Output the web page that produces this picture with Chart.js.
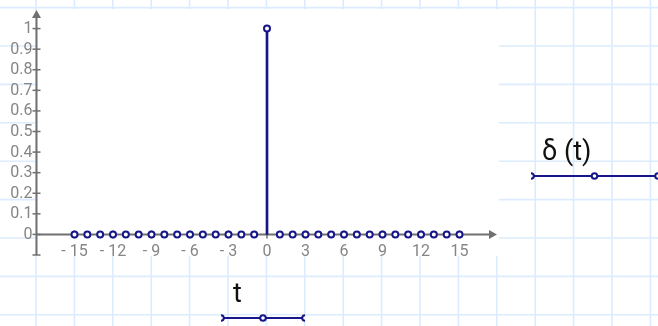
<!DOCTYPE html>
<html><head><meta charset="utf-8">
<script src="https://cdn.jsdelivr.net/npm/chart.js@4/dist/chart.umd.min.js"></script>
<style>html,body{margin:0;padding:0;background:#fff;}#wrap{width:658px;height:326px;position:relative;}</style>
</head><body><div id="wrap"><canvas id="c" width="658" height="326"></canvas></div>
<script>
const tValues = [-15,-14,-13,-12,-11,-10,-9,-8,-7,-6,-5,-4,-3,-2,-1,0,1,2,3,4,5,6,7,8,9,10,11,12,13,14,15];
const deltaValues = [0,0,0,0,0,0,0,0,0,0,0,0,0,0,0,1,0,0,0,0,0,0,0,0,0,0,0,0,0,0,0];
const xTickValues = [-15,-12,-9,-6,-3,0,3,6,9,12,15];
const xTickLabels = ['- 15','- 12','- 9','- 6','- 3','0','3','6','9','12','15'];
const yTickValues = [-0.1,0,0.1,0.2,0.3,0.4,0.5,0.6,0.7,0.8,0.9,1];
const yTickLabels = ['','0','0.1','0.2','0.3','0.4','0.5','0.6','0.7','0.8','0.9','1'];
const yLegendText = 'δ (t)';
const xLegendText = 't';

const NAVY = '#16168a';
const AXIS = '#707070';
const LABEL = '#858585';
const GRID = '#dcebfd';
const FONT = 'Roboto, "Noto Sans", sans-serif';

const points = tValues.map((t,i)=>({x:t,y:deltaValues[i]}));

const bgPlugin = {
  id:'bg',
  beforeDraw(chart){
    const ctx = chart.ctx, W = chart.width, H = chart.height, a = chart.chartArea;
    ctx.save();
    ctx.fillStyle = '#fff'; ctx.fillRect(0,0,W,H);
    ctx.strokeStyle = GRID; ctx.lineWidth = 1.6;
    for (let k=-1;k<20;k++){ const x = 36 + k*38.4; ctx.beginPath(); ctx.moveTo(x,0); ctx.lineTo(x,H); ctx.stroke(); }
    for (let k=0;k<10;k++){ const y = 7.6 + k*38.4; ctx.beginPath(); ctx.moveTo(0,y); ctx.lineTo(W,y); ctx.stroke(); }
    ctx.fillStyle = '#fff';
    ctx.fillRect(a.left+1, a.top+1, a.right-a.left, a.bottom-a.top);
    ctx.restore();
  },
  beforeDatasetsDraw(chart){
    const ctx = chart.ctx, xs = chart.scales.x, ys = chart.scales.y, a = chart.chartArea;
    const x0 = a.left+0.5, y0 = ys.getPixelForValue(0);
    ctx.save();
    ctx.strokeStyle = AXIS; ctx.fillStyle = AXIS; ctx.lineWidth = 2;
    // x axis
    ctx.beginPath(); ctx.moveTo(x0,y0); ctx.lineTo(a.right-6,y0); ctx.stroke();
    ctx.beginPath(); ctx.moveTo(a.right-1,y0); ctx.lineTo(a.right-9,y0-4.5); ctx.lineTo(a.right-9,y0+4.5); ctx.closePath(); ctx.fill();
    // y axis
    ctx.beginPath(); ctx.moveTo(x0,ys.getPixelForValue(-0.1)); ctx.lineTo(x0,a.top+8); ctx.stroke();
    ctx.beginPath(); ctx.moveTo(x0,a.top+2); ctx.lineTo(x0-4.5,a.top+10); ctx.lineTo(x0+4.5,a.top+10); ctx.closePath(); ctx.fill();
    // ticks
    ctx.lineWidth = 1.5;
    yTickValues.forEach(v=>{ const y = ys.getPixelForValue(v); ctx.beginPath(); ctx.moveTo(x0-4,y); ctx.lineTo(x0+4,y); ctx.stroke(); });
    xTickValues.forEach(v=>{ const x = xs.getPixelForValue(v); ctx.beginPath(); ctx.moveTo(x,y0-4); ctx.lineTo(x,y0+4); ctx.stroke(); });
    // labels
    ctx.fillStyle = LABEL; ctx.font = '16px ' + FONT;
    ctx.textAlign = 'right'; ctx.textBaseline = 'middle';
    yTickValues.forEach((v,i)=>{ ctx.fillText(yTickLabels[i], x0-4, ys.getPixelForValue(v)+0.5); });
    ctx.textAlign = 'center'; ctx.textBaseline = 'alphabetic';
    xTickValues.forEach((v,i)=>{ ctx.fillText(xTickLabels[i], xs.getPixelForValue(v), y0+22); });
    ctx.restore();
  },
  afterDraw(chart){
    const ctx = chart.ctx;
    ctx.save();
    ctx.fillStyle = '#111'; ctx.font = '27px ' + FONT; ctx.textAlign = 'left'; ctx.textBaseline = 'alphabetic';
    ctx.fillText(yLegendText, 542, 160);
    ctx.fillText(xLegendText, 233, 302);
    const legendLine = (x1,x2,y)=>{
      ctx.save();
      ctx.beginPath(); ctx.rect(x1,y-6,x2-x1,12); ctx.clip();
      ctx.strokeStyle = NAVY; ctx.lineWidth = 2;
      ctx.beginPath(); ctx.moveTo(x1,y); ctx.lineTo(x2,y); ctx.stroke();
      [x1,(x1+x2)/2,x2].forEach(cx=>{ ctx.beginPath(); ctx.arc(cx,y,2.8,0,Math.PI*2); ctx.fillStyle='#fff'; ctx.fill(); ctx.stroke(); });
      ctx.restore();
    };
    legendLine(531, 658, 176);
    legendLine(221, 305, 318);
    ctx.restore();
  }
};

new Chart(document.getElementById('c'), {
  type:'scatter',
  data:{ datasets:[
    { type:'bar', data: points, backgroundColor: NAVY, borderWidth:0, barThickness:2, order:2 },
    { type:'scatter', data: points, pointRadius:3, pointBorderWidth:2, pointBorderColor: NAVY, pointBackgroundColor:'#fff', showLine:false, order:1 }
  ]},
  options:{
    responsive:false, animation:false, devicePixelRatio:1,
    layout:{ padding:{ left:36, right:160, top:8, bottom:71 } },
    plugins:{ legend:{display:false}, tooltip:{enabled:false} },
    scales:{
      x:{ type:'linear', min:-18, max:18, display:false, offset:false },
      y:{ type:'linear', min:-0.1, max:1.1, display:false }
    }
  },
  plugins:[bgPlugin]
});
</script></body></html>
